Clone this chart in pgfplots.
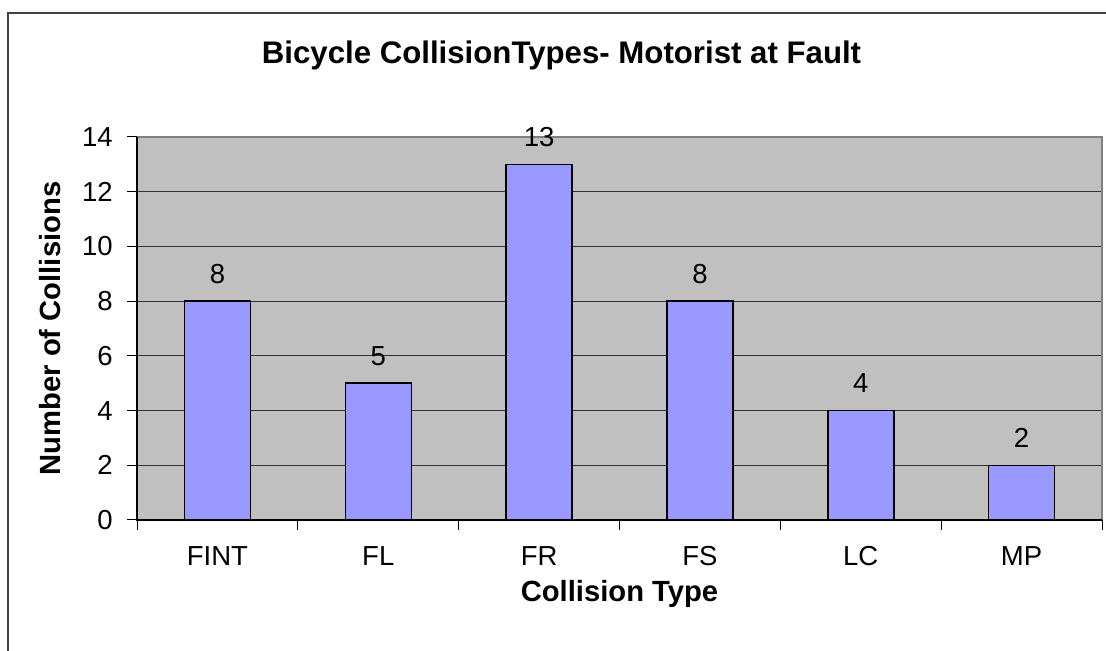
\documentclass[border=0pt]{standalone}
\usepackage{fontspec}
\setmainfont{Liberation Sans}
\usepackage{pgfplots}
\pgfplotsset{compat=1.18}
\definecolor{plotbg}{HTML}{C0C0C0}
\definecolor{barfill}{HTML}{9999FF}
\definecolor{gridc}{HTML}{333333}
\definecolor{framec}{HTML}{808080}
\definecolor{borderc}{HTML}{404040}
\begin{document}
\begin{tikzpicture}
\path[use as bounding box] (0,0) rectangle (553pt,325.5pt);
\begin{axis}[
  at={(68.5pt,65.5pt)}, anchor=south west,
  scale only axis, width=482.5pt, height=191.5pt,
  ybar, bar width=33pt,
  xmin=0.5, xmax=6.5, ymin=0, ymax=14,
  xtick={0.5,1.5,...,6.5}, xticklabels={},
  extra x ticks={1,2,3,4,5,6},
  extra x tick labels={FINT,FL,FR,FS,LC,MP},
  extra x tick style={major tick length=0pt},
  ytick={0,2,...,14},
  tick align=outside, major tick length=5pt,
  tick pos=left,
  tick style={black, line width=0.5pt},
  ymajorgrids, grid style={gridc, line width=0.5pt},
  axis line style={draw=none},
  axis background/.style={fill=plotbg},
  clip=false,
  /pgf/number format/assume math mode=true,
  tick label style={font=\fontsize{13.75}{16}\selectfont},
  yticklabel style={anchor=east, inner sep=0pt, xshift=-7pt},
  xticklabel style={anchor=base, inner sep=0pt, yshift=-23pt},
  title={Bicycle CollisionTypes- Motorist at Fault},
  title style={font=\bfseries\fontsize{15.6}{18}\selectfont, at={(axis description cs:0.5,1)}, anchor=base, xshift=-29pt, yshift=30.5pt, inner sep=0pt},
  xlabel={Collision Type},
  xlabel style={font=\bfseries\fontsize{14.6}{17}\selectfont, at={(axis description cs:0.5,0)}, anchor=base, yshift=-41pt, inner sep=0pt},
  ylabel={Number of Collisions},
  ylabel style={font=\bfseries\fontsize{14.6}{17}\selectfont, at={(axis description cs:-0.0902,0.5)}, anchor=center, inner sep=0pt},
  nodes near coords,
  nodes near coords style={font=\fontsize{13.75}{16}\selectfont, anchor=base, inner sep=0pt, yshift=9pt, black},
]
\draw[framec, line width=1pt] (rel axis cs:0,1) -- (rel axis cs:1,1) -- (rel axis cs:1,0);
\draw[black, line width=0.75pt] (rel axis cs:0,1) -- (rel axis cs:0,0) -- (rel axis cs:1,0);
\addplot[fill=barfill, draw=black, line width=0.75pt] coordinates {(1,8) (2,5) (3,13) (4,8) (5,4) (6,2)};
\end{axis}
\draw[borderc, line width=1pt] (3.85pt,0) -- (3.85pt,319.15pt) -- (560pt,319.15pt);
\end{tikzpicture}
\end{document}
